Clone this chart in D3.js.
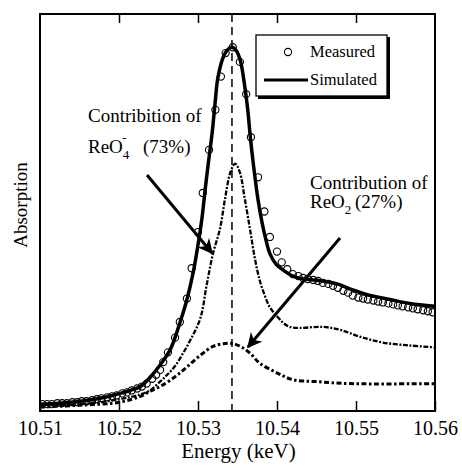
<!DOCTYPE html>
<html>
<head>
<meta charset="utf-8">
<script src="https://cdn.jsdelivr.net/npm/d3@7"></script>
<style>
  body { margin: 0; background: #fff; }
  text { font-family: "Liberation Serif", "Times New Roman", serif; fill: #000; }
</style>
</head>
<body>
<svg id="chart" width="462" height="469"></svg>
<script>
'use strict';

// measured spectrum (open circles)
var measuredEnergy = [10.5103, 10.5109, 10.5115, 10.5122, 10.5128, 10.5134, 10.5141, 10.5147, 10.5153, 10.5159,
  10.5166, 10.5172, 10.5178, 10.5185, 10.5191, 10.5197, 10.5204, 10.5210, 10.5216, 10.5223,
  10.5229, 10.5235, 10.5242, 10.5247, 10.5252, 10.5256, 10.5262, 10.5271, 10.5277, 10.5286,
  10.5292, 10.5300, 10.5306, 10.5314, 10.5322, 10.5329, 10.5335, 10.5344, 10.5353, 10.5361,
  10.5367, 10.5376, 10.5384, 10.5391, 10.5400, 10.5406, 10.5413, 10.5420, 10.5427, 10.5433,
  10.5439, 10.5446, 10.5452, 10.5458, 10.5465, 10.5471, 10.5477, 10.5484, 10.5490, 10.5496,
  10.5503, 10.5509, 10.5515, 10.5522, 10.5528, 10.5534, 10.5541, 10.5547, 10.5553, 10.5559,
  10.5566, 10.5572, 10.5578, 10.5585, 10.5591, 10.5597];
var measuredAbs = [0.01, 0.01, 0.01, 0.02, 0.02, 0.02, 0.03, 0.03, 0.04, 0.04,
  0.05, 0.06, 0.07, 0.08, 0.09, 0.10, 0.12, 0.13, 0.15, 0.17,
  0.19, 0.22, 0.27, 0.31, 0.36, 0.44, 0.54, 0.69, 0.85, 1.09,
  1.40, 1.77, 2.17, 2.61, 3.02, 3.36, 3.60, 3.66, 3.51, 3.18,
  2.74, 2.33, 1.98, 1.72, 1.57, 1.46, 1.39, 1.34, 1.32, 1.30,
  1.29, 1.28, 1.27, 1.25, 1.24, 1.22, 1.20, 1.17, 1.15, 1.12,
  1.10, 1.09, 1.08, 1.07, 1.06, 1.05, 1.04, 1.03, 1.02, 1.01,
  1.00, 0.99, 0.98, 0.97, 0.96, 0.95];

// simulated spectrum (solid line)
var simEnergy = [10.5100, 10.5125, 10.5151, 10.5176, 10.5201, 10.5214, 10.5227, 10.5239, 10.5252, 10.5265,
  10.5277, 10.5286, 10.5294, 10.5300, 10.5305, 10.5309, 10.5313, 10.5318, 10.5322, 10.5325,
  10.5332, 10.5337, 10.5343, 10.5349, 10.5354, 10.5359, 10.5363, 10.5366, 10.5370, 10.5376,
  10.5381, 10.5386, 10.5391, 10.5399, 10.5408, 10.5420, 10.5435, 10.5448, 10.5458, 10.5476,
  10.5492, 10.5514, 10.5543, 10.5568, 10.5600];
var simAbs = [0.01, 0.02, 0.04, 0.07, 0.12, 0.15, 0.19, 0.28, 0.41, 0.57,
  0.84, 1.08, 1.36, 1.64, 1.91, 2.20, 2.47, 2.79, 3.12, 3.34,
  3.56, 3.63, 3.66, 3.62, 3.51, 3.27, 3.02, 2.76, 2.47, 2.10,
  1.87, 1.69, 1.55, 1.44, 1.38, 1.32, 1.29, 1.28, 1.27, 1.24,
  1.19, 1.13, 1.08, 1.04, 1.01];

// ReO4- contribution (73%)
var reo4Energy = [10.5100, 10.5151, 10.5201, 10.5227, 10.5239, 10.5252, 10.5261, 10.5271, 10.5281, 10.5290,
  10.5303, 10.5311, 10.5319, 10.5328, 10.5334, 10.5341, 10.5347, 10.5353, 10.5359, 10.5366,
  10.5372, 10.5378, 10.5385, 10.5391, 10.5400, 10.5408, 10.5416, 10.5429, 10.5458, 10.5480,
  10.5505, 10.5534, 10.5568, 10.5600];
var reo4Abs = [0.00, 0.01, 0.06, 0.11, 0.15, 0.24, 0.31, 0.40, 0.53, 0.66,
  0.89, 1.23, 1.55, 1.81, 2.10, 2.38, 2.47, 2.38, 2.12, 1.79,
  1.50, 1.28, 1.11, 1.00, 0.91, 0.84, 0.80, 0.79, 0.80, 0.77,
  0.70, 0.64, 0.61, 0.59];

// ReO2 contribution (27%)
var reo2Energy = [10.5100, 10.5151, 10.5201, 10.5227, 10.5239, 10.5252, 10.5271, 10.5286, 10.5303, 10.5319,
  10.5334, 10.5344, 10.5356, 10.5366, 10.5378, 10.5400, 10.5420, 10.5451, 10.5492, 10.5600];
var reo2Abs = [-0.02, 0.00, 0.03, 0.09, 0.14, 0.19, 0.29, 0.39, 0.51, 0.60,
  0.63, 0.63, 0.59, 0.53, 0.43, 0.33, 0.26, 0.24, 0.22, 0.22];

var xTicks = [10.51, 10.52, 10.53, 10.54, 10.55, 10.56];
var peakEnergy = 10.5343;

var svg = d3.select('#chart');
var plotLeft = 40, plotRight = 435, plotTop = 14, plotBottom = 411;

var x = d3.scaleLinear().domain([10.51, 10.56]).range([plotLeft, plotRight]);
var y = d3.scaleLinear().domain([-0.06, 4.0]).range([plotBottom, plotTop]);

function zip(es, vs) {
  return es.map(function(e, i) { return [e, vs[i]]; });
}

var line = d3.line()
  .x(function(d) { return x(d[0]); })
  .y(function(d) { return y(d[1]); })
  .curve(d3.curveCatmullRom.alpha(0.5));

var defs = svg.append('defs');
defs.append('clipPath').attr('id', 'clip')
  .append('rect').attr('x', plotLeft).attr('y', plotTop)
  .attr('width', plotRight - plotLeft).attr('height', plotBottom - plotTop);
defs.append('marker')
  .attr('id', 'head').attr('viewBox', '0 0 10 10').attr('refX', 9).attr('refY', 5)
  .attr('markerWidth', 5).attr('markerHeight', 5).attr('orient', 'auto').attr('markerUnits', 'strokeWidth')
  .append('path').attr('d', 'M0 0 L10 5 L0 10 L3 5 Z').attr('fill', '#000');

var inner = svg.append('g').attr('clip-path', 'url(#clip)');

// peak position marker
inner.append('line')
  .attr('x1', x(peakEnergy)).attr('x2', x(peakEnergy))
  .attr('y1', plotTop).attr('y2', plotBottom)
  .attr('stroke', '#000').attr('stroke-width', 1.5).attr('stroke-dasharray', '8,5');

inner.append('path').datum(zip(reo2Energy, reo2Abs))
  .attr('d', line).attr('fill', 'none').attr('stroke', '#000')
  .attr('stroke-width', 3).attr('stroke-dasharray', '5,2.5,2.5,2.5');

inner.append('path').datum(zip(reo4Energy, reo4Abs))
  .attr('d', line).attr('fill', 'none').attr('stroke', '#000')
  .attr('stroke-width', 2.3).attr('stroke-dasharray', '5,1.6,2,1.6');

inner.append('path').datum(zip(simEnergy, simAbs))
  .attr('d', line).attr('fill', 'none').attr('stroke', '#000')
  .attr('stroke-width', 3.5);

inner.selectAll('circle.measured').data(zip(measuredEnergy, measuredAbs)).enter()
  .append('circle').attr('class', 'measured')
  .attr('cx', function(d) { return x(d[0]); })
  .attr('cy', function(d) { return y(d[1]); })
  .attr('r', 3.6)
  .attr('fill', 'none').attr('stroke', '#000').attr('stroke-width', 1.1);

// axes
var bottomAxis = d3.axisBottom(x).tickValues(xTicks).tickSize(-10).tickPadding(10)
  .tickFormat(d3.format('.2f'));
var gx = svg.append('g').attr('transform', 'translate(0,' + plotBottom + ')').call(bottomAxis);
gx.select('.domain').remove();
gx.selectAll('line').attr('stroke', '#000').attr('stroke-width', 1.5);
gx.selectAll('text').attr('font-size', 20).style('font-family', '"Liberation Serif", serif');

var topAxis = d3.axisTop(x).tickValues(xTicks.slice(1, -1)).tickSize(-9).tickFormat('');
var gt = svg.append('g').attr('transform', 'translate(0,' + plotTop + ')').call(topAxis);
gt.select('.domain').remove();
gt.selectAll('line').attr('stroke', '#000').attr('stroke-width', 1.5);

svg.append('rect')
  .attr('x', plotLeft).attr('y', plotTop).attr('width', plotRight - plotLeft).attr('height', plotBottom - plotTop)
  .attr('fill', 'none').attr('stroke', '#000').attr('stroke-width', 2);

svg.append('text').attr('x', (plotLeft + plotRight) / 2 + 1).attr('y', 458)
  .attr('text-anchor', 'middle').attr('font-size', 21).text('Energy (keV)');
svg.append('text').attr('transform', 'translate(27,205) rotate(-90)')
  .attr('text-anchor', 'middle').attr('font-size', 19).text('Absorption');

// annotations
svg.append('text').attr('x', 88).attr('y', 122).attr('font-size', 19).text('Contribition of');
var t4 = svg.append('text').attr('x', 88).attr('y', 153).attr('font-size', 19);
t4.append('tspan').text('ReO');
t4.append('tspan').attr('font-size', 13).attr('dy', 6).text('4');
t4.append('tspan').attr('font-size', 13).attr('dx', -7).attr('dy', -17).text('-');
t4.append('tspan').attr('x', 143).attr('dy', 11).text('(73%)');

svg.append('text').attr('x', 310).attr('y', 189).attr('font-size', 19).text('Contribution of');
var t2 = svg.append('text').attr('x', 310).attr('y', 208).attr('font-size', 19);
t2.append('tspan').text('ReO');
t2.append('tspan').attr('font-size', 13).attr('dy', 6).text('2');
t2.append('tspan').attr('x', 355).attr('dy', -6).text('(27%)');

var arrows = [
  {x1: 147, y1: 175, x2: 212, y2: 253},
  {x1: 340, y1: 238, x2: 248, y2: 347}
];
svg.selectAll('line.arrow').data(arrows).enter().append('line').attr('class', 'arrow')
  .attr('x1', function(d) { return d.x1; }).attr('y1', function(d) { return d.y1; })
  .attr('x2', function(d) { return d.x2; }).attr('y2', function(d) { return d.y2; })
  .attr('stroke', '#000').attr('stroke-width', 3).attr('marker-end', 'url(#head)');

// legend
var legend = svg.append('g');
legend.append('rect').attr('x', 258).attr('y', 37).attr('width', 132).attr('height', 62).attr('fill', '#000');
legend.append('rect').attr('x', 256).attr('y', 35).attr('width', 131).attr('height', 61)
  .attr('fill', '#fff').attr('stroke', '#000').attr('stroke-width', 1.3);
legend.append('circle').attr('cx', 288).attr('cy', 52).attr('r', 3.6)
  .attr('fill', 'none').attr('stroke', '#000').attr('stroke-width', 1.1);
legend.append('line').attr('x1', 264).attr('x2', 308).attr('y1', 80).attr('y2', 80)
  .attr('stroke', '#000').attr('stroke-width', 3);
legend.append('text').attr('x', 310).attr('y', 57).attr('font-size', 16.5).text('Measured');
legend.append('text').attr('x', 310).attr('y', 85).attr('font-size', 16.5).text('Simulated');
</script>
</body>
</html>
